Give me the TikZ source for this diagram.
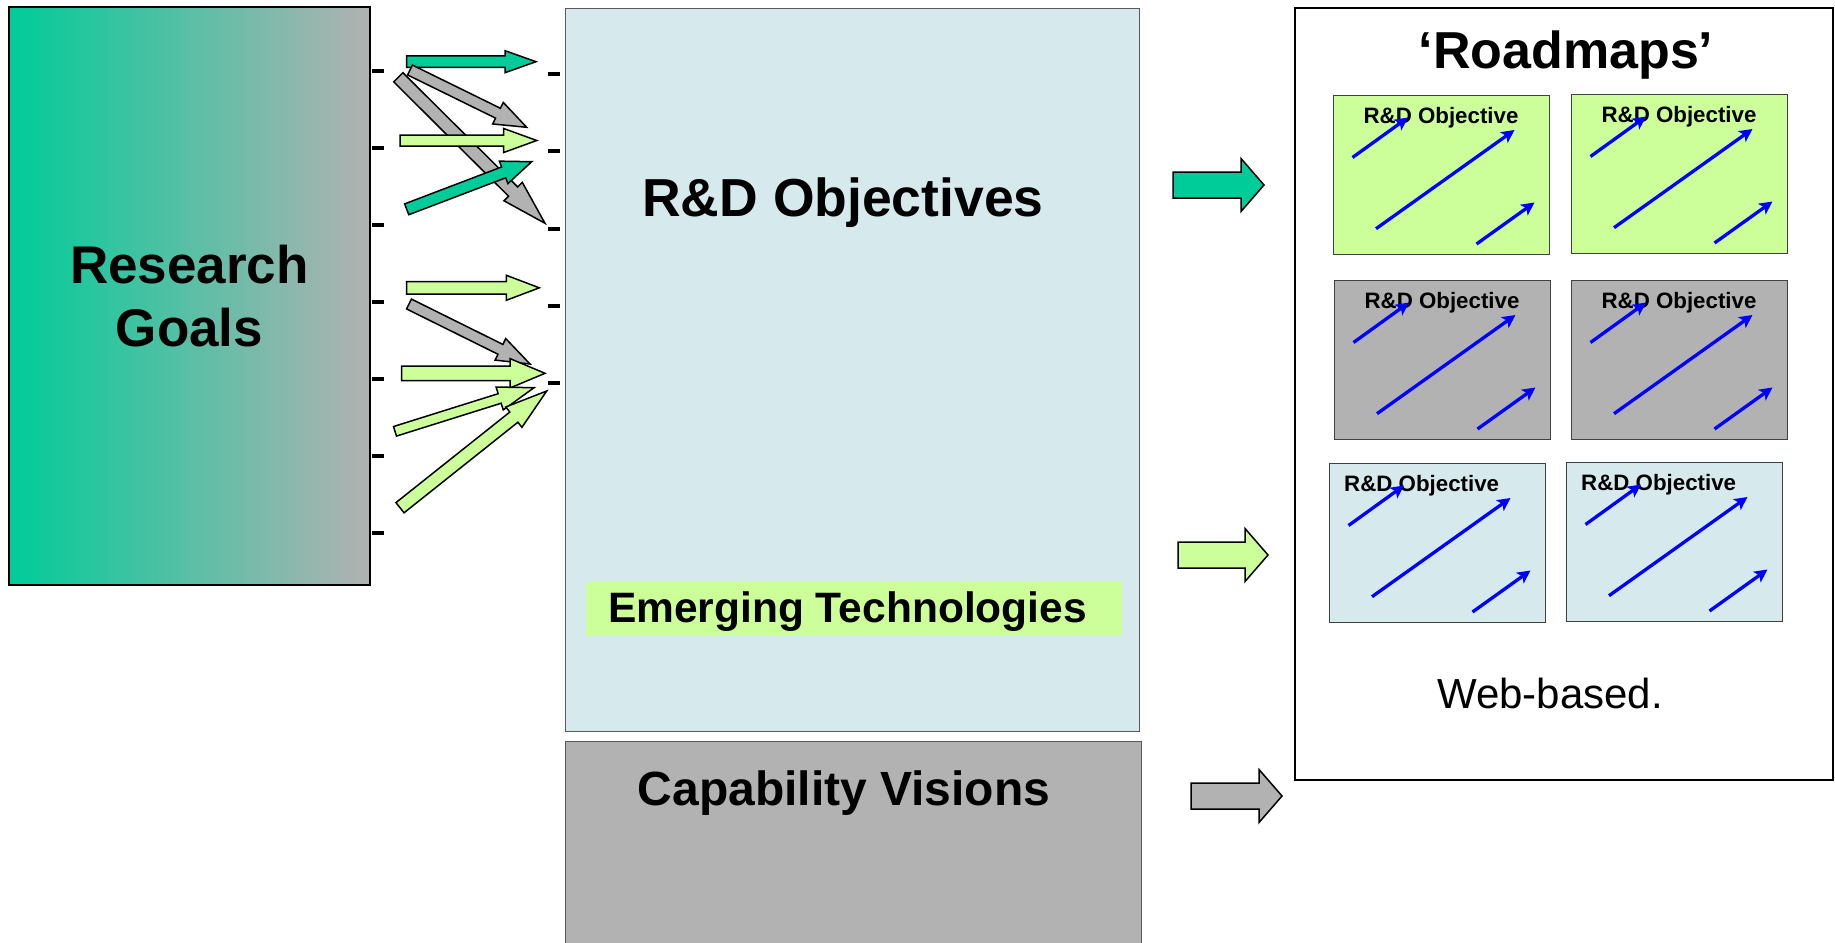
\documentclass[tikz,border=0pt]{standalone}
\usepackage{fontspec}
\setmainfont{Liberation Sans}
\usetikzlibrary{arrows.meta,calc}

\definecolor{rgteal}{RGB}{0,204,153}
\definecolor{rglime}{RGB}{204,255,153}
\definecolor{rggray}{RGB}{178,178,178}
\definecolor{rgpale}{RGB}{214,234,237}

% fat outlined arrow: fill, tail, tip, shaft half-width, head half-width, head length
\newcommand{\blockarrow}[6]{%
    \coordinate (ba-base) at ($(#3)!#6pt!(#2)$);
    \draw[linkarrow, fill=#1]
        ($(#2)!#4pt!90:(#3)$) -- ($(ba-base)!#4pt!90:(#3)$)
        -- ($(ba-base)!#5pt!90:(#3)$) -- (#3)
        -- ($(ba-base)!#5pt!-90:(#3)$) -- ($(ba-base)!#4pt!-90:(#3)$)
        -- ($(#2)!#4pt!-90:(#3)$) -- cycle;
}

\begin{document}
\begin{tikzpicture}[
    x=1pt, y=-1pt,
    >=Stealth,
    bigbox/.style={
        draw=black!65, line width=1pt,
        inner sep=0pt, outer sep=0pt, anchor=north west,
    },
    goalbox/.style={
        draw=black, line width=2pt,
        left color=rgteal, right color=rggray,
        inner sep=0pt, outer sep=0pt, anchor=north west,
    },
    panebox/.style={
        draw=black!75, line width=1pt,
        minimum width=216pt, minimum height=159pt,
        inner sep=0pt, outer sep=0pt, anchor=north west,
    },
    panetitle/.style={font=\fontsize{22.3}{26}\selectfont\bfseries, inner sep=0pt},
    linkarrow/.style={draw=black, line width=1.5pt, line join=miter},
    tickmark/.style={line width=4pt},
    trend/.style={draw=blue, line width=3.3pt, -{Stealth[length=13pt, width=13pt, inset=3pt]}},
]

\useasboundingbox[fill=white] (0,0) rectangle (1835,942);
\clip (0,0) rectangle (1835,942);

% ── Research goals ──────────────────────────────────────────
\node[goalbox, minimum width=361pt, minimum height=578pt, align=center,
      font=\fontsize{53}{63}\selectfont\bfseries] (goals) at (9,7) {Research\\Goals};
\foreach \i in {0,...,6} {
    \draw[tickmark] (372,{70.5+77*\i}) -- ++(12,0);
}

% ── R&D objectives column ───────────────────────────────────
\node[bigbox, fill=rgpale, minimum width=574pt, minimum height=722pt] (objectives) at (565,9) {};
\node[font=\fontsize{53.5}{60}\selectfont\bfseries, anchor=base, inner sep=0pt]
    (objtitle) at (843,216.5) {R\&D Objectives};
\foreach \i in {0,...,4} {
    \draw[tickmark] (548,{74+77.25*\i}) -- ++(12,0);
}
\node[fill=rglime, anchor=north west, inner sep=0pt, outer sep=0pt,
      minimum width=536pt, minimum height=53.5pt] (emerging) at (586,582) {};
\node[font=\fontsize{42.5}{48}\selectfont\bfseries, anchor=base west, inner sep=0pt]
    (emergtitle) at (608,622) {Emerging Technologies};

\node[bigbox, fill=rggray, minimum width=576pt, minimum height=230pt] (capability) at (565,741.5) {};
\node[font=\fontsize{48}{54}\selectfont\bfseries, anchor=base, inner sep=0pt]
    (captitle) at (844,805) {Capability Visions};

% ── Links goals -> objectives ───────────────────────────────
\foreach \i/\col/\tx/\ty/\hx/\hy/\sw/\hw/\hl in {
    1/rgteal/406.7/61.7/536/61.7/5.7/11/31,
    2/rggray/398.3/77.3/545/223.3/6.5/13/45,
    3/rggray/410/70/526.7/127.3/5.5/12/32,
    4/rglime/400/140.5/536.7/140.5/5.5/12/33,
    5/rgteal/406.7/209.3/531.7/161.7/5.8/12/30,
    6/rglime/406.7/287.8/539.3/287.8/6.2/12.5/33,
    7/rggray/409/304/530/364/5.5/12/33,
    8/rglime/401.7/373.3/545/373.3/7.3/14.7/35,
    9/rglime/395/431.3/534/387.7/5/12/36,
    10/rglime/400/507.7/546.7/391/6.5/13/42} {
    \coordinate (link\i-tail) at (\tx,\ty);
    \coordinate (link\i-tip) at (\hx,\hy);
    \blockarrow{\col}{link\i-tail}{link\i-tip}{\sw}{\hw}{\hl}
}

% ── Feeds into roadmaps ─────────────────────────────────────
\foreach \i/\col/\tx/\ty/\hx in {
    1/rgteal/1173/185/1264,
    2/rglime/1178/555/1268,
    3/rggray/1191/796/1282} {
    \coordinate (feed\i-tail) at (\tx,\ty);
    \coordinate (feed\i-tip) at (\hx,\ty);
    \blockarrow{\col}{feed\i-tail}{feed\i-tip}{13}{26.5}{23}
}

% ── Roadmaps ────────────────────────────────────────────────
\node[draw=black, line width=2pt, anchor=north west, inner sep=0pt, outer sep=0pt,
      minimum width=538pt, minimum height=772pt] (roadmaps) at (1295,8) {};
\node[font=\fontsize{52}{58}\selectfont\bfseries, anchor=base, inner sep=0pt]
    (maptitle) at (1566,68) {‘Roadmaps’};

\foreach \pn/\px/\py/\pfill/\lanc/\lx in {
    pane11/1333/95/rglime/base/108,
    pane12/1571/94/rglime/base/108,
    pane21/1334/280/rggray/base/108,
    pane22/1571/280/rggray/base/108,
    pane31/1329/463/rgpale/base west/15,
    pane32/1566/462/rgpale/base west/15} {
    \node[panebox, fill=\pfill] (\pn) at (\px,\py) {};
    \node[panetitle, anchor=\lanc] (\pn-title) at ([shift={(\lx,28)}]\pn.north west) {R\&D Objective};
    \draw[trend] ([shift={(19.5,62.5)}]\pn.north west) -- ([shift={(75,22.5)}]\pn.north west);
    \draw[trend] ([shift={(43,133.7)}]\pn.north west) -- ([shift={(181.5,35)}]\pn.north west);
    \draw[trend] ([shift={(143.5,149)}]\pn.north west) -- ([shift={(201.5,107.5)}]\pn.north west);
}

\node[font=\fontsize{42}{48}\selectfont, anchor=base, inner sep=0pt]
    (webnote) at (1550,708) {Web-based.};

\end{tikzpicture}
\end{document}
